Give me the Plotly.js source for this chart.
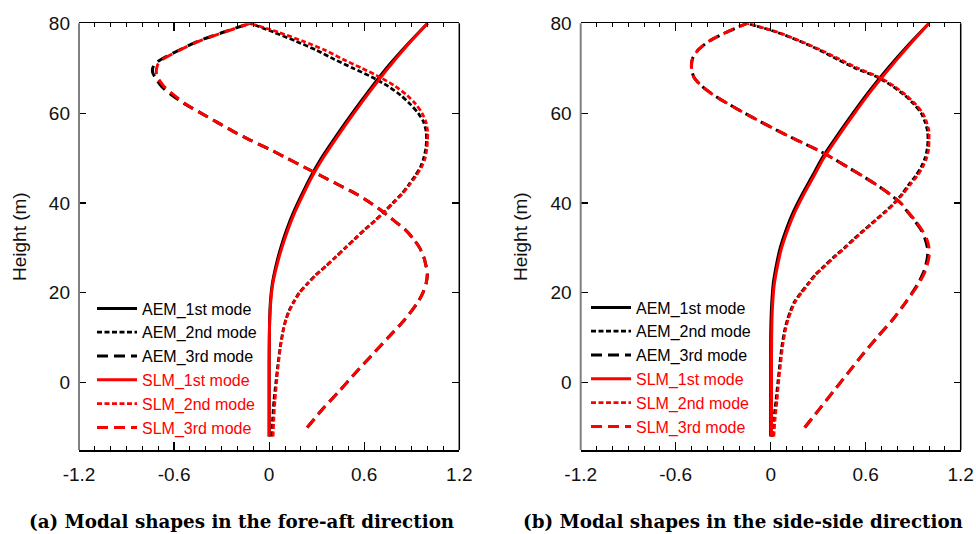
<!DOCTYPE html>
<html>
<head>
<meta charset="utf-8">
<script src="https://cdn.plot.ly/plotly-3.0.1.min.js"></script>
<style>html,body{margin:0;padding:0;background:#fff;}#chart{width:976px;height:534px;}</style>
</head>
<body>
<div id="chart"></div>
<script>
// ---------- DATA ----------
const seriesNames = ["AEM_1st mode", "AEM_2nd mode", "AEM_3rd mode", "SLM_1st mode", "SLM_2nd mode", "SLM_3rd mode"];
const xTickVals = [-1.2, -0.6, 0, 0.6, 1.2];
const xTickText = ["-1.2", "-0.6", "0", "0.6", "1.2"];
const yTickVals = [0, 20, 40, 60, 80];
const captions = ["(a) Modal shapes in the fore-aft direction", "(b) Modal shapes in the side-side direction"];

// heights (m)
const heightsM1 = [-12, -4, 4, 10, 14, 18, 22, 26, 30, 34, 38, 42, 46, 50, 55, 60, 65, 70, 75, 80];
const heightsM2 = [-12, -8, -4, 0, 4, 8, 12, 14, 16, 18, 20, 22, 24, 26, 28, 30, 32, 34, 36, 38, 40, 42, 44, 46, 48, 50, 52, 54, 56, 58, 60, 62, 64, 66, 68, 70, 72, 74, 76, 78, 80];
const heightsFaM3 = [-10, -6, -2, 2, 6, 10, 14, 18, 20, 22, 24, 26, 28, 30, 32, 34, 36, 38, 40, 42, 44, 46, 48, 50, 52, 54, 56, 58, 60, 62, 64, 66, 68, 69, 70, 71, 72, 74, 76, 78, 80];
const heightsSsM3 = [-10, -6, -2, 2, 6, 10, 14, 18, 22, 25, 28, 30, 32, 34, 36, 38, 40, 42, 44, 46, 48, 50, 52, 54, 56, 58, 60, 62, 64, 66, 68, 70, 72, 74, 76, 78, 80];

// (a) fore-aft modal displacements
const faAemM1 = [0, 0, 0, 0.001, 0.003, 0.008, 0.02, 0.043, 0.073, 0.11, 0.155, 0.208, 0.265, 0.33, 0.425, 0.525, 0.63, 0.74, 0.865, 1.0];
const faSlmM1 = [0, 0, 0, 0.001, 0.004, 0.01, 0.023, 0.048, 0.08, 0.118, 0.163, 0.216, 0.273, 0.34, 0.435, 0.535, 0.64, 0.75, 0.87, 1.0];
const faAemM2 = [0.015, 0.022, 0.03, 0.042, 0.055, 0.07, 0.09, 0.105, 0.125, 0.155, 0.19, 0.24, 0.295, 0.36, 0.42, 0.48, 0.54, 0.60, 0.665, 0.725, 0.78, 0.835, 0.88, 0.92, 0.955, 0.975, 0.988, 0.993, 0.99, 0.975, 0.94, 0.89, 0.83, 0.75, 0.65, 0.53, 0.41, 0.30, 0.17, 0.03, -0.12];
const faSlmM2 = [0.025, 0.03, 0.037, 0.047, 0.058, 0.072, 0.092, 0.107, 0.128, 0.158, 0.193, 0.243, 0.298, 0.362, 0.423, 0.483, 0.543, 0.603, 0.668, 0.728, 0.785, 0.84, 0.885, 0.927, 0.962, 0.985, 0.995, 1.0, 1.0, 0.99, 0.965, 0.925, 0.87, 0.795, 0.70, 0.585, 0.465, 0.355, 0.215, 0.06, -0.12];
const faAemM3 = [0.24, 0.335, 0.44, 0.54, 0.645, 0.75, 0.855, 0.94, 0.97, 0.99, 0.998, 0.99, 0.975, 0.95, 0.91, 0.86, 0.79, 0.72, 0.64, 0.55, 0.44, 0.33, 0.22, 0.11, 0.0, -0.12, -0.23, -0.33, -0.43, -0.53, -0.615, -0.68, -0.72, -0.735, -0.735, -0.72, -0.68, -0.57, -0.45, -0.29, -0.12];
const faSlmM3 = [0.24, 0.335, 0.44, 0.54, 0.645, 0.75, 0.855, 0.94, 0.97, 0.99, 0.998, 0.99, 0.975, 0.95, 0.91, 0.86, 0.79, 0.72, 0.64, 0.55, 0.44, 0.33, 0.22, 0.11, 0.0, -0.12, -0.23, -0.33, -0.43, -0.525, -0.60, -0.665, -0.705, -0.712, -0.71, -0.70, -0.67, -0.565, -0.445, -0.285, -0.12];

// (b) side-side modal displacements
const ssAemM1 = [0, 0, 0, 0, 0.002, 0.007, 0.016, 0.035, 0.06, 0.097, 0.143, 0.2, 0.263, 0.325, 0.42, 0.52, 0.625, 0.74, 0.865, 1.0];
const ssSlmM1 = [0.005, 0.005, 0.005, 0.006, 0.008, 0.013, 0.023, 0.043, 0.069, 0.107, 0.153, 0.21, 0.273, 0.335, 0.43, 0.53, 0.635, 0.75, 0.872, 1.0];
const ssAemM2 = [0.01, 0.02, 0.033, 0.045, 0.057, 0.07, 0.09, 0.105, 0.125, 0.15, 0.19, 0.235, 0.28, 0.34, 0.40, 0.465, 0.525, 0.59, 0.655, 0.72, 0.78, 0.83, 0.87, 0.915, 0.95, 0.975, 0.988, 0.993, 0.99, 0.975, 0.95, 0.905, 0.845, 0.77, 0.675, 0.535, 0.42, 0.31, 0.185, 0.04, -0.15];
const ssSlmM2 = [0.02, 0.028, 0.04, 0.05, 0.062, 0.075, 0.095, 0.11, 0.13, 0.155, 0.195, 0.24, 0.285, 0.345, 0.405, 0.47, 0.53, 0.595, 0.66, 0.725, 0.785, 0.835, 0.88, 0.925, 0.96, 0.985, 0.998, 1.0, 1.0, 0.985, 0.96, 0.915, 0.855, 0.78, 0.685, 0.55, 0.435, 0.32, 0.19, 0.045, -0.15];
const ssAemM3 = [0.215, 0.305, 0.395, 0.485, 0.575, 0.67, 0.77, 0.855, 0.93, 0.97, 0.99, 0.99, 0.975, 0.95, 0.91, 0.865, 0.82, 0.75, 0.67, 0.58, 0.485, 0.39, 0.285, 0.165, 0.05, -0.06, -0.165, -0.265, -0.36, -0.435, -0.485, -0.50, -0.495, -0.46, -0.39, -0.28, -0.15];
const ssSlmM3 = [0.215, 0.305, 0.395, 0.485, 0.575, 0.67, 0.77, 0.855, 0.935, 0.978, 1.0, 1.0, 0.985, 0.955, 0.915, 0.868, 0.822, 0.752, 0.67, 0.58, 0.485, 0.39, 0.285, 0.165, 0.05, -0.06, -0.165, -0.265, -0.36, -0.435, -0.485, -0.50, -0.495, -0.46, -0.39, -0.28, -0.15];

// ---------- STYLES ----------
const colors = ["#000000", "#000000", "#000000", "#ff0000", "#ff0000", "#ff0000"];
const dashes = ["solid", "5px,2.5px", "11px,6px", "solid", "5px,2.5px", "11px,6px"];
const widths = [3, 2.7, 3, 3, 2.7, 3];

function mk(x, y, i, panel) {
  const isRed = i >= 3;
  return {
    x: x, y: y, type: "scatter", mode: "lines",
    name: isRed ? '<span style="color:#ff0000">' + seriesNames[i] + '</span>' : seriesNames[i],
    line: {color: colors[i], width: widths[i], dash: dashes[i], shape: "spline", smoothing: 0.7},
    xaxis: panel === 0 ? "x" : "x2",
    yaxis: panel === 0 ? "y" : "y2",
    legend: panel === 0 ? "legend" : "legend2",
    hoverinfo: "x+y"
  };
}

const traces = [
  mk(faAemM1, heightsM1, 0, 0), mk(faAemM2, heightsM2, 1, 0), mk(faAemM3, heightsFaM3, 2, 0),
  mk(faSlmM1, heightsM1, 3, 0), mk(faSlmM2, heightsM2, 4, 0), mk(faSlmM3, heightsFaM3, 5, 0),
  mk(ssAemM1, heightsM1, 0, 1), mk(ssAemM2, heightsM2, 1, 1), mk(ssAemM3, heightsSsM3, 2, 1),
  mk(ssSlmM1, heightsM1, 3, 1), mk(ssSlmM2, heightsM2, 4, 1), mk(ssSlmM3, heightsSsM3, 5, 1)
];

const tickFont = {family: "Liberation Sans, Arial, sans-serif", size: 19, color: "#111"};
function xAxis(domain, anchor) {
  return {
    domain: domain, anchor: anchor, range: [-1.2, 1.2], autorange: false,
    tickvals: xTickVals, ticktext: xTickText, ticks: "inside", ticklen: 8, tickwidth: 1.2, tickcolor: "#000",
    minor: {dtick: 0.1, tick0: 0, ticks: "inside", ticklen: 4, tickwidth: 1, tickcolor: "#000", showgrid: false},
    showline: true, linecolor: "#000", linewidth: 1.5, mirror: "ticks",
    showgrid: false, zeroline: false, tickfont: tickFont, ticklabelstandoff: 7, automargin: false
  };
}
function yAxis(domain, anchor) {
  return {
    domain: domain, anchor: anchor, range: [-15, 80], autorange: false,
    tickvals: yTickVals, ticks: "inside", ticklen: 7, tickwidth: 1.2, tickcolor: "#000",
    showline: false, mirror: "ticks",
    showgrid: false, zeroline: false, tickfont: tickFont, ticklabelstandoff: 8, automargin: false,
    title: {text: "Height (m)", font: {family: "Liberation Sans, Arial, sans-serif", size: 19, color: "#111"}, standoff: 17}
  };
}

const yDom = [84 / 534, 510.7 / 534];
const xDomA = [79 / 976, 459.3 / 976];
const xDomB = [580.7 / 976, 960.7 / 976];

const legendBase = {
  font: {family: "Liberation Sans, Arial, sans-serif", size: 16, color: "#000"},
  bgcolor: "rgba(0,0,0,0)", borderwidth: 0, yanchor: "top", xanchor: "left", traceorder: "normal", itemwidth: 40
};

const edgeShapes = [];
[["x", "y"], ["x2", "y2"]].forEach(function (p) {
  edgeShapes.push({type: "line", xref: p[0] + " domain", yref: p[1] + " domain", x0: 0, x1: 0, y0: 0, y1: 1, line: {color: "#808080", width: 2}, layer: "above"});
  edgeShapes.push({type: "line", xref: p[0] + " domain", yref: p[1] + " domain", x0: 1, x1: 1, y0: 0, y1: 1, line: {color: "#000", width: 1.5}, layer: "above"});
});

const layout = {
  width: 976, height: 534,
  margin: {l: 0, r: 0, t: 0, b: 0},
  paper_bgcolor: "#fff", plot_bgcolor: "#fff",
  showlegend: true,
  xaxis: xAxis(xDomA, "y"),
  yaxis: yAxis(yDom, "x"),
  xaxis2: xAxis(xDomB, "y2"),
  yaxis2: yAxis(yDom, "x2"),
  legend: Object.assign({}, legendBase, {x: 92 / 976, y: (534 - 291.5) / 534}),
  legend2: Object.assign({}, legendBase, {x: 586 / 976, y: (534 - 290.5) / 534}),
  shapes: edgeShapes,
  annotations: [
    {text: captions[0], xref: "paper", yref: "paper", x: 241 / 976, y: (534 - 521) / 534, xanchor: "center", yanchor: "middle", showarrow: false,
     font: {family: "DejaVu Serif, serif", size: 18.3, weight: 700, color: "#000"}},
    {text: captions[1], xref: "paper", yref: "paper", x: 743 / 976, y: (534 - 521) / 534, xanchor: "center", yanchor: "middle", showarrow: false,
     font: {family: "DejaVu Serif, serif", size: 18.3, weight: 700, color: "#000"}}
  ]
};

Plotly.newPlot("chart", traces, layout, {displayModeBar: false, staticPlot: true});
</script>
</body>
</html>
